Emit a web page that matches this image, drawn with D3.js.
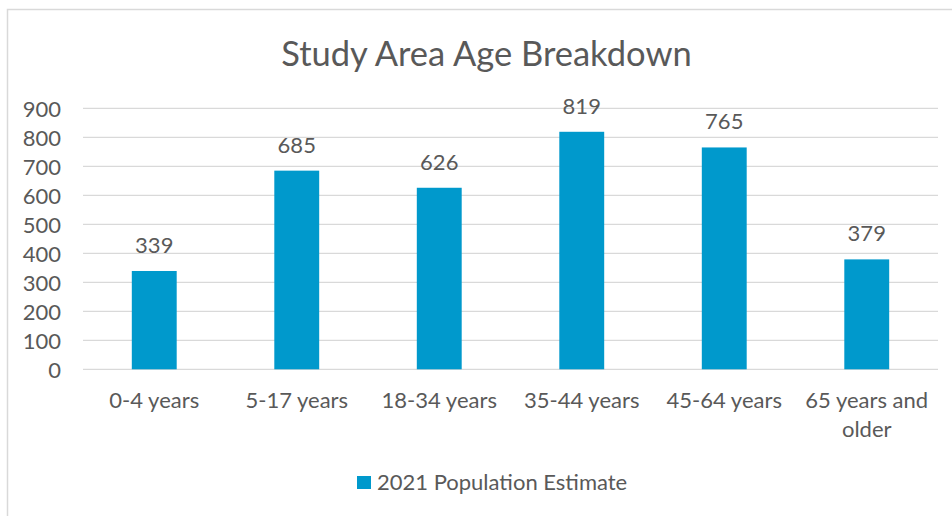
<!DOCTYPE html>
<html><head><meta charset="utf-8">
<script src="https://cdn.jsdelivr.net/npm/d3@7"></script>
<style>
html,body{margin:0;padding:0;background:#fff;}
svg text{font-family:Lato,"Open Sans",sans-serif;fill:#595959;}
</style></head>
<body>
<svg id="chart" width="952" height="516"></svg>
<script>
const categories = [["0-4 years"],["5-17 years"],["18-34 years"],["35-44 years"],["45-64 years"],["65 years and","older"]];
const values = [339, 685, 626, 819, 765, 379];
const yTicks = [0,100,200,300,400,500,600,700,800,900];
const seriesName = "2021 Population Estimate";
const title = "Study Area Age Breakdown";

const svg = d3.select("#chart");
// chart border (extends past right/bottom)
svg.append("rect").attr("x",7.5).attr("y",9.5).attr("width",960).attr("height",520)
  .attr("fill","#fff").attr("stroke","#d9d9d9").attr("stroke-width",1.5);

const x = d3.scaleBand().domain(d3.range(categories.length)).range([83,938]).paddingInner(0.685).paddingOuter(0.3425);
const y = d3.scaleLinear().domain([0,900]).range([369.3,108.3]);

// gridlines
svg.append("g").selectAll("line").data(yTicks).join("line")
  .attr("x1",83).attr("x2",938).attr("y1",d=>y(d)).attr("y2",d=>y(d))
  .attr("stroke","#d9d9d9").attr("stroke-width",1.3);

// y axis labels
const yAxis = d3.axisLeft(y).tickValues(yTicks).tickSize(0).tickPadding(0);
const gy = svg.append("g").attr("transform","translate(61,0)").call(yAxis);
gy.select(".domain").remove();
gy.selectAll("text").attr("font-size",22).attr("dy","0.35em").style("font-family","Lato").attr("fill","#595959");

// bars
svg.append("g").selectAll("rect").data(values).join("rect")
  .attr("x",(d,i)=>x(i)).attr("width",x.bandwidth())
  .attr("y",d=>y(d)).attr("height",d=>y(0)-y(d)).attr("fill","#0099cc");

// data labels
svg.append("g").selectAll("text").data(values).join("text")
  .attr("x",(d,i)=>x(i)+x.bandwidth()/2).attr("y",d=>y(d)-18)
  .attr("text-anchor","middle").attr("font-size",22).text(d=>d);

// x labels
const xl = svg.append("g").selectAll("text").data(categories).join("text")
  .attr("x",(d,i)=>x(i)+x.bandwidth()/2).attr("y",407.5)
  .attr("text-anchor","middle").attr("font-size",22);
xl.selectAll("tspan").data(d=>d).join("tspan")
  .attr("x",function(){return this.parentNode.getAttribute("x");})
  .attr("dy",(d,j)=>j===0?0:29).text(d=>d);

// title
svg.append("text").attr("x",486.5).attr("y",66).attr("text-anchor","middle")
  .attr("font-size",34.5).text(title);

// legend
svg.append("rect").attr("x",357).attr("y",476).attr("width",14).attr("height",13).attr("fill","#0099cc");
svg.append("text").attr("x",377).attr("y",490).attr("font-size",22).text(seriesName);
</script>
</body></html>
